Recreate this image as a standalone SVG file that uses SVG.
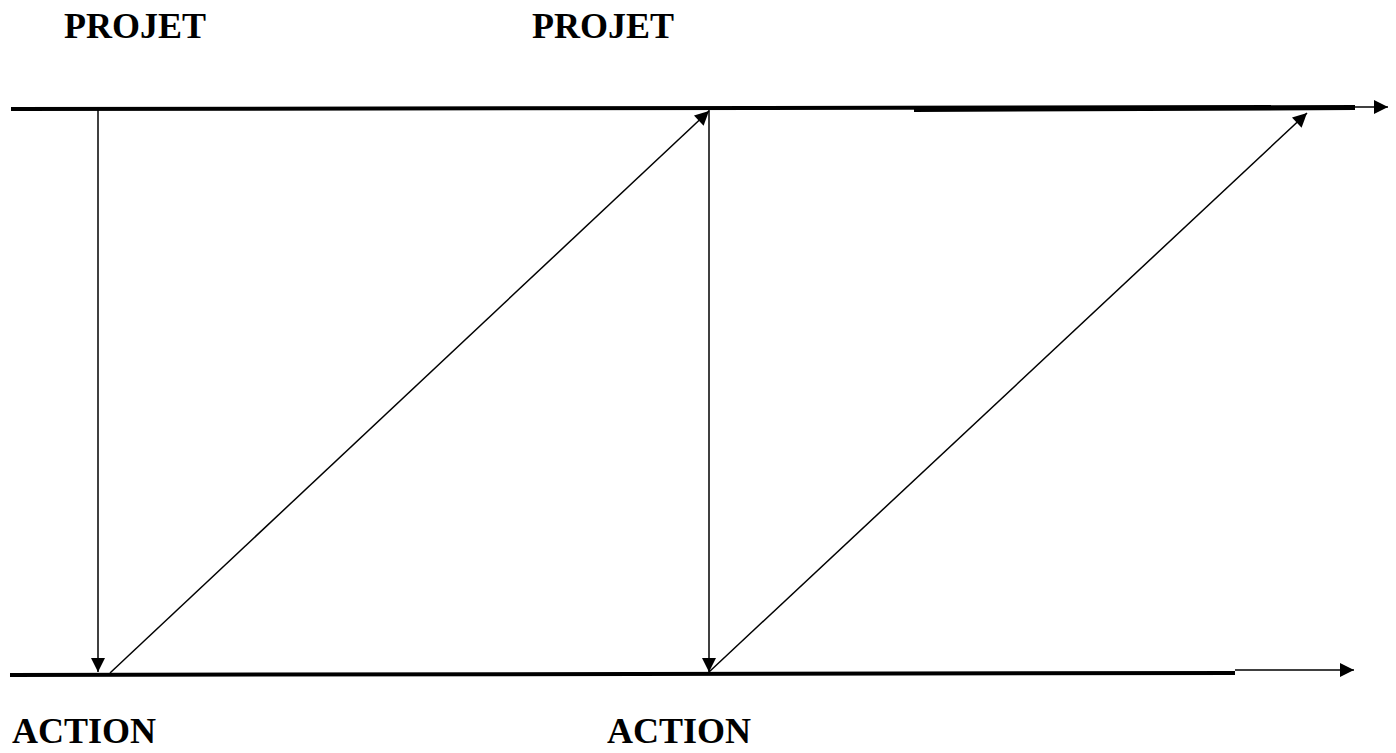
<svg xmlns="http://www.w3.org/2000/svg" width="1396" height="753" viewBox="0 0 1396 753">
<style>
.lbl{font-family:"Liberation Serif","Times New Roman",serif;font-weight:bold;font-size:36px;fill:#000}
.thick{stroke:#000;stroke-width:4;fill:none}
.thin{stroke:#000;stroke-width:1.5;fill:none}
</style>
<defs>
<marker id="ahL" viewBox="0 0 10 10" refX="10" refY="5" markerWidth="15" markerHeight="14" markerUnits="userSpaceOnUse" orient="auto">
<path d="M0,0 L10,5 L0,10 Z" fill="#000"/>
</marker>
</defs>
<g id="labels">
<text id="projet1" class="lbl" x="64" y="38">PROJET</text>
<text id="projet2" class="lbl" x="532" y="38">PROJET</text>
<text id="action1" class="lbl" x="12" y="743">ACTION</text>
<text id="action2" class="lbl" x="607" y="743">ACTION</text>
</g>
<g id="axes">
<line class="thick" x1="11" y1="109" x2="1355" y2="107"/>
<line class="thick" x1="914" y1="110" x2="1355" y2="108" stroke-width="2"/>
<line class="thin" x1="1355" y1="107" x2="1388" y2="107" marker-end="url(#ahL)"/>
<line class="thick" x1="10" y1="675" x2="1235" y2="673"/>
<line class="thin" x1="1235" y1="670" x2="1354" y2="670" marker-end="url(#ahL)"/>
</g>
<g id="connectors">
<line class="thin" x1="98" y1="110" x2="98" y2="672" marker-end="url(#ahL)"/>
<line class="thin" x1="110" y1="673" x2="709" y2="111" marker-end="url(#ahL)"/>
<line class="thin" x1="709" y1="110" x2="709" y2="672" marker-end="url(#ahL)"/>
<line class="thin" x1="709" y1="672" x2="1307" y2="113" marker-end="url(#ahL)"/>
</g>
</svg>
